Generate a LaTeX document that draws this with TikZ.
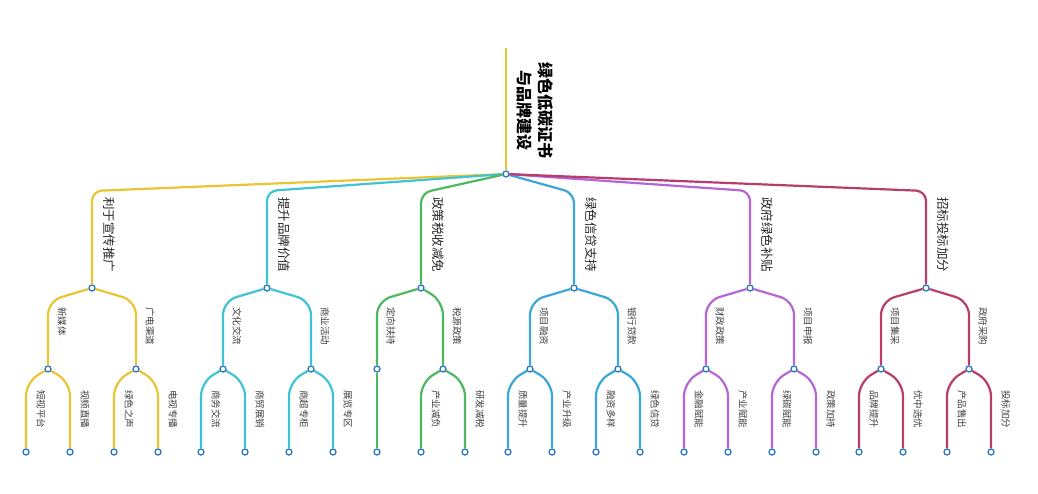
\documentclass[tikz,border=0pt]{standalone}
\usepackage{fontspec}
\setmainfont{Noto Sans CJK SC}
\usepackage{tikz}
\usetikzlibrary{calc, backgrounds}
\usepackage{xcolor}
\definecolor{cyel}{HTML}{E9C535}
\definecolor{ccya}{HTML}{3FC4D4}
\definecolor{cgrn}{HTML}{4DB85F}
\definecolor{cblu}{HTML}{3AA6DA}
\definecolor{cpur}{HTML}{B565D6}
\definecolor{cred}{HTML}{B83C6C}
\definecolor{dotblue}{HTML}{2A79C0}

\tikzset{
  dot/.style={circle, draw=dotblue, fill=white, line width=1.3pt,
              inner sep=0pt, minimum size=6pt},
  link/.style={line width=2.2pt, rounded corners=14pt},
  lvone/.style={rotate=-90, anchor=west, inner sep=0pt, text=black!85,
                font=\fontsize{12.5}{14}\selectfont},
  lvtwo/.style={rotate=-90, anchor=west, inner sep=0pt, text=black!75,
                font=\fontsize{9.5}{11}\selectfont},
}

\begin{document}
\begin{tikzpicture}[x=1pt, y=-1pt]
      \useasboundingbox (0,0) rectangle (1038,493);

      % root
      \coordinate (top) at (506,48);
      \node[dot] (root) at (506,174) {};
      \node[rotate=-90, align=center, inner sep=0pt,
            font=\bfseries\fontsize{16}{21}\selectfont] (root-t) at (535,110)
        {绿色低碳证书\\与品牌建设};

      % first level
      \node[dot] (xc) at (92,288) {};
      \node[dot] (pp) at (267,288) {};
      \node[dot] (sm) at (421,288) {};
      \node[dot] (xd) at (574,288) {};
      \node[dot] (bt) at (750,288) {};
      \node[dot] (zb) at (926,288) {};
      \node[lvone] (xc-t) at ($(xc)+(17,-91)$) {利于宣传推广};
      \node[lvone] (pp-t) at ($(pp)+(17,-91)$) {提升品牌价值};
      \node[lvone] (sm-t) at ($(sm)+(17,-91)$) {政策税收减免};
      \node[lvone] (xd-t) at ($(xd)+(17,-91)$) {绿色信贷支持};
      \node[lvone] (bt-t) at ($(bt)+(17,-91)$) {政府绿色补贴};
      \node[lvone] (zb-t) at ($(zb)+(17,-91)$) {招标投标加分};

      % second level
      \node[dot] (xc1) at (48,369) {};
      \node[dot] (xc2) at (136,369) {};
      \node[dot] (pp1) at (223,369) {};
      \node[dot] (pp2) at (311,369) {};
      \node[dot] (sm1) at (377,369) {};
      \node[dot] (sm2) at (443,369) {};
      \node[dot] (xd1) at (530,369) {};
      \node[dot] (xd2) at (618,369) {};
      \node[dot] (bt1) at (706,369) {};
      \node[dot] (bt2) at (794,369) {};
      \node[dot] (zb1) at (881,369) {};
      \node[dot] (zb2) at (969,369) {};
      \node[lvtwo] (xc1-t) at ($(xc1)+(14,-62)$) {新媒体};
      \node[lvtwo] (xc2-t) at ($(xc2)+(14,-62)$) {广电渠道};
      \node[lvtwo] (pp1-t) at ($(pp1)+(14,-62)$) {文化交流};
      \node[lvtwo] (pp2-t) at ($(pp2)+(14,-62)$) {商业活动};
      \node[lvtwo] (sm1-t) at ($(sm1)+(14,-62)$) {定向扶持};
      \node[lvtwo] (sm2-t) at ($(sm2)+(14,-62)$) {税源政策};
      \node[lvtwo] (xd1-t) at ($(xd1)+(14,-62)$) {项目融资};
      \node[lvtwo] (xd2-t) at ($(xd2)+(14,-62)$) {银行贷款};
      \node[lvtwo] (bt1-t) at ($(bt1)+(14,-62)$) {财政政策};
      \node[lvtwo] (bt2-t) at ($(bt2)+(14,-62)$) {项目申报};
      \node[lvtwo] (zb1-t) at ($(zb1)+(14,-62)$) {项目集采};
      \node[lvtwo] (zb2-t) at ($(zb2)+(14,-62)$) {政府采购};

      % leaves
      \node[dot] (xc11) at (26,452) {};
      \node[dot] (xc12) at (70,452) {};
      \node[dot] (xc21) at (114,452) {};
      \node[dot] (xc22) at (158,452) {};
      \node[dot] (pp11) at (201,452) {};
      \node[dot] (pp12) at (245,452) {};
      \node[dot] (pp21) at (289,452) {};
      \node[dot] (pp22) at (333,452) {};
      \node[dot] (sm11) at (377,452) {};
      \node[dot] (sm21) at (421,452) {};
      \node[dot] (sm22) at (465,452) {};
      \node[dot] (xd11) at (508,452) {};
      \node[dot] (xd12) at (552,452) {};
      \node[dot] (xd21) at (596,452) {};
      \node[dot] (xd22) at (640,452) {};
      \node[dot] (bt11) at (684,452) {};
      \node[dot] (bt12) at (728,452) {};
      \node[dot] (bt21) at (772,452) {};
      \node[dot] (bt22) at (816,452) {};
      \node[dot] (zb11) at (859,452) {};
      \node[dot] (zb12) at (903,452) {};
      \node[dot] (zb21) at (947,452) {};
      \node[dot] (zb22) at (991,452) {};
      \node[lvtwo] (xc11-t) at ($(xc11)+(15,-62)$) {短视平台};
      \node[lvtwo] (xc12-t) at ($(xc12)+(15,-62)$) {视频直播};
      \node[lvtwo] (xc21-t) at ($(xc21)+(15,-62)$) {绿色之声};
      \node[lvtwo] (xc22-t) at ($(xc22)+(15,-62)$) {电视专播};
      \node[lvtwo] (pp11-t) at ($(pp11)+(15,-62)$) {商务交流};
      \node[lvtwo] (pp12-t) at ($(pp12)+(15,-62)$) {商贸展销};
      \node[lvtwo] (pp21-t) at ($(pp21)+(15,-62)$) {商超专柜};
      \node[lvtwo] (pp22-t) at ($(pp22)+(15,-62)$) {展览专区};
      \node[lvtwo] (sm21-t) at ($(sm21)+(15,-62)$) {产业减负};
      \node[lvtwo] (sm22-t) at ($(sm22)+(15,-62)$) {研发减税};
      \node[lvtwo] (xd11-t) at ($(xd11)+(15,-62)$) {质量提升};
      \node[lvtwo] (xd12-t) at ($(xd12)+(15,-62)$) {产业升级};
      \node[lvtwo] (xd21-t) at ($(xd21)+(15,-62)$) {融资多样};
      \node[lvtwo] (xd22-t) at ($(xd22)+(15,-62)$) {绿色信贷};
      \node[lvtwo] (bt11-t) at ($(bt11)+(15,-62)$) {金融赋能};
      \node[lvtwo] (bt12-t) at ($(bt12)+(15,-62)$) {产业赋能};
      \node[lvtwo] (bt21-t) at ($(bt21)+(15,-62)$) {绿碳赋能};
      \node[lvtwo] (bt22-t) at ($(bt22)+(15,-62)$) {政策加持};
      \node[lvtwo] (zb11-t) at ($(zb11)+(15,-62)$) {品牌提升};
      \node[lvtwo] (zb12-t) at ($(zb12)+(15,-62)$) {优中选优};
      \node[lvtwo] (zb21-t) at ($(zb21)+(15,-62)$) {产品售出};
      \node[lvtwo] (zb22-t) at ($(zb22)+(15,-62)$) {投标加分};

      \begin{scope}[on background layer]
        \draw[link, cyel] (top) -- (root);
        % root to first level
        \draw[link, cyel, rounded corners=10pt] (root) -- ($(xc)+(0,-97)$) -- (xc);
        \draw[link, ccya, rounded corners=10pt] (root) -- ($(pp)+(0,-97)$) -- (pp);
        \draw[link, cgrn, rounded corners=10pt] (root) -- ($(sm)+(0,-95)$) -- (sm);
        \draw[link, cblu, rounded corners=10pt] (root) -- ($(xd)+(0,-95)$) -- (xd);
        \draw[link, cpur, rounded corners=10pt] (root) -- ($(bt)+(0,-97)$) -- (bt);
        \draw[link, cred, rounded corners=10pt] (root) -- ($(zb)+(0,-97)$) -- (zb);
        % first to second level
        \foreach \p/\c in {xc/cyel, pp/ccya, sm/cgrn, xd/cblu, bt/cpur, zb/cred}{
          \draw[link, \c] (\p) -- ($(\p1)+(0,-68)$) -- (\p1);
          \draw[link, \c] (\p) -- ($(\p2)+(0,-68)$) -- (\p2);
        }
        % second level to leaves
        \foreach \p/\c in {xc1/cyel, xc2/cyel, pp1/ccya, pp2/ccya, sm2/cgrn,
                           xd1/cblu, xd2/cblu, bt1/cpur, bt2/cpur, zb1/cred, zb2/cred}{
          \draw[link, \c] (\p) -- ($(\p1)+(0,-70)$) -- (\p1);
          \draw[link, \c] (\p) -- ($(\p2)+(0,-70)$) -- (\p2);
        }
        \draw[link, cgrn] (sm1) -- (sm11);
      \end{scope}
\end{tikzpicture}
\end{document}
